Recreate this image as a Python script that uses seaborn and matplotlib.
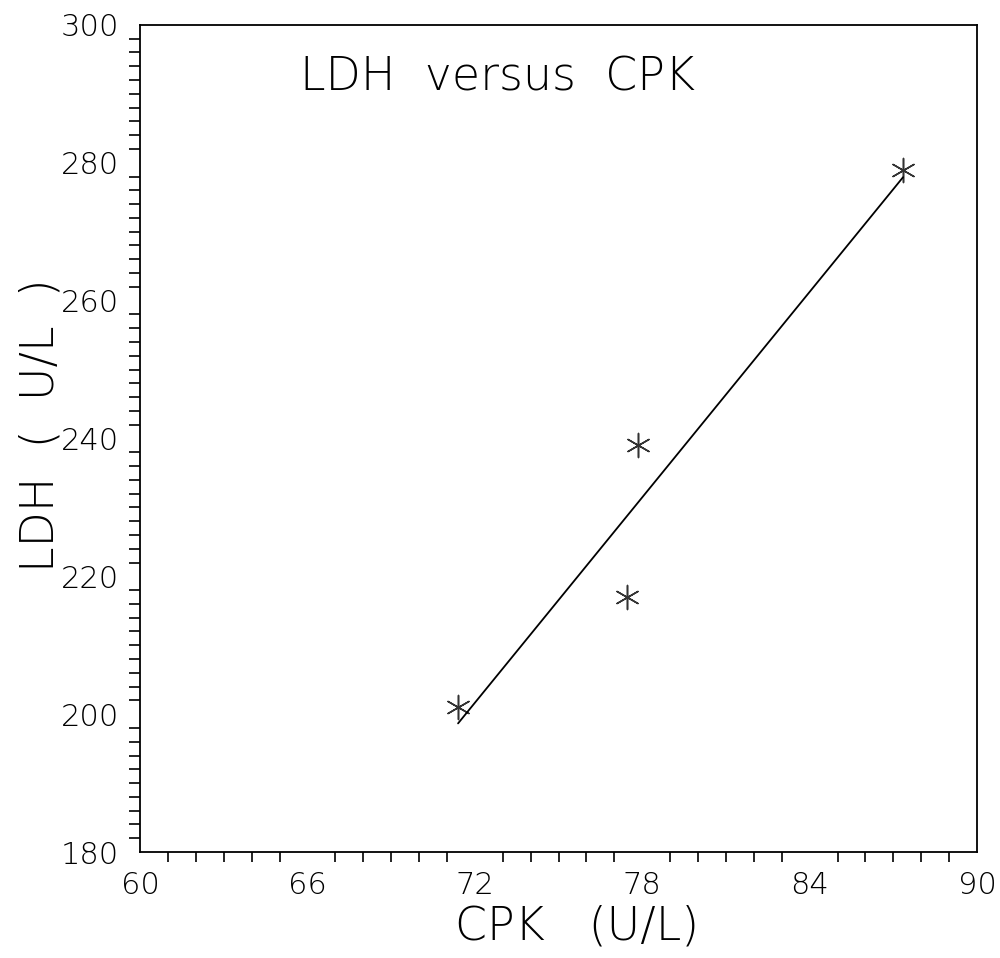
import matplotlib
matplotlib.use("Agg")
import matplotlib.pyplot as plt
import seaborn as sns
import pandas as pd
import numpy as np
from matplotlib.ticker import MultipleLocator

cpk = [71.4, 77.45, 77.85, 87.35]
ldh = [201, 217, 239, 279]
x_ticks = [60, 66, 72, 78, 84, 90]
y_ticks = [180, 200, 220, 240, 260, 280, 300]

df = pd.DataFrame({"CPK": cpk, "LDH": ldh})

sns.set_style("white")
plt.rcParams['font.family'] = ['DejaVu Sans']
plt.rcParams['text.color'] = 'black'
plt.rcParams['axes.labelcolor'] = 'black'
plt.rcParams['xtick.color'] = 'black'
plt.rcParams['ytick.color'] = 'black'

fig = plt.figure(figsize=(10, 9.58), dpi=100)
ax = fig.add_axes([0.14, 0.1106, 0.837, 0.8634])

sns.regplot(data=df, x="CPK", y="LDH", ax=ax, ci=None, truncate=True,
            marker=(6, 2, 0),
            scatter_kws=dict(s=300, color="black", linewidths=1.1),
            line_kws=dict(color="black", lw=1.3))

ax.set_xlim(60, 90)
ax.set_ylim(180, 300)
ax.set_xticks(x_ticks)
ax.set_yticks(y_ticks)
ax.xaxis.set_minor_locator(MultipleLocator(1))
ax.yaxis.set_minor_locator(MultipleLocator(2))

ax.tick_params(axis="both", which="major", direction="out", labelsize=22,
               width=1.2, color="black", labelcolor="black", pad=4)
ax.tick_params(axis="x", which="major", length=10)
ax.tick_params(axis="x", which="minor", length=7, width=1.2, direction="out",
               bottom=True)
ax.tick_params(axis="y", which="major", length=11)
ax.tick_params(axis="y", which="minor", length=8, width=1.2, direction="out",
               left=True)
ax.tick_params(top=False, right=False)

for sp in ax.spines.values():
    sp.set_color("black")
    sp.set_linewidth(1.3)
    sp.set_visible(True)

ax.set_xlabel("CPK   (U/L)", fontsize=33, fontweight="light")
ax.xaxis.set_label_coords(0.522, -0.063)
ax.set_ylabel("LDH  (  U/L  )", fontsize=33, fontweight="light")
ax.yaxis.set_label_coords(-0.092, 0.516)
ax.text(0.427, 0.9365, "LDH  versus  CPK", transform=ax.transAxes,
        ha="center", va="center", fontsize=33, fontweight="light")

for lab in ax.get_xticklabels() + ax.get_yticklabels():
    lab.set_fontweight("light")

fig.savefig("out.png", dpi=100, facecolor="white")
